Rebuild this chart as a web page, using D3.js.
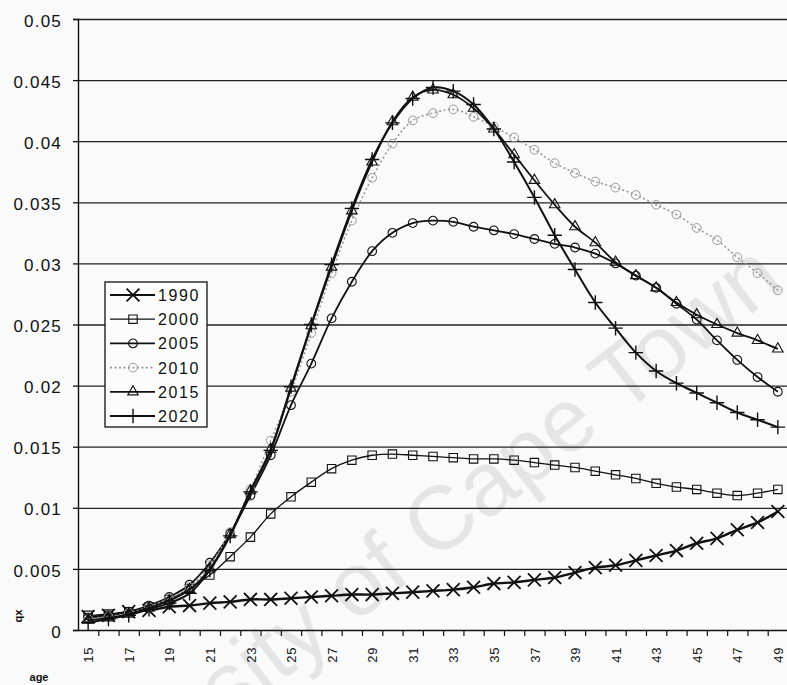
<!DOCTYPE html>
<html>
<head>
<meta charset="utf-8">
<script src="https://cdn.jsdelivr.net/npm/d3@7"></script>
<style>
	body { margin: 0; background: #fafafa; }
	svg { display: block; }
	text { font-family: "Liberation Sans", Arial, sans-serif; fill: #111; }
</style>
</head>
<body>
<div id="visual"></div>
<script>

// ages on the x axis
const ages = [15, 16, 17, 18, 19, 20, 21, 22, 23, 24, 25, 26, 27, 28, 29, 30, 31, 32,
	33, 34, 35, 36, 37, 38, 39, 40, 41, 42, 43, 44, 45, 46, 47, 48, 49];

const ageLabels = [15, 17, 19, 21, 23, 25, 27, 29, 31, 33, 35, 37, 39, 41, 43, 45, 47, 49];

const yTicks = [0, 0.005, 0.01, 0.015, 0.02, 0.025, 0.03, 0.035, 0.04, 0.045, 0.05];

// qx per age
const q1990 = [0.0011, 0.0012, 0.0015, 0.0016, 0.0019, 0.0020, 0.0022, 0.0023, 0.0025, 0.0025,
	0.0026, 0.0027, 0.0028, 0.0029, 0.0029, 0.0030, 0.0031, 0.0032, 0.0033, 0.0035,
	0.0038, 0.0039, 0.0041, 0.0043, 0.0047, 0.0051, 0.0053, 0.0057, 0.0061, 0.0065,
	0.0071, 0.0075, 0.0082, 0.0088, 0.0097];

const q2000 = [0.0012, 0.0013, 0.0015, 0.0019, 0.0025, 0.0034, 0.0045, 0.0060, 0.0076, 0.0095,
	0.0109, 0.0121, 0.0132, 0.0139, 0.0143, 0.0144, 0.0143, 0.0142, 0.0141, 0.0140,
	0.0140, 0.0139, 0.0137, 0.0135, 0.0133, 0.0130, 0.0127, 0.0124, 0.0120, 0.0117,
	0.0115, 0.0112, 0.0110, 0.0112, 0.0115];

const q2005 = [0.0010, 0.0012, 0.0015, 0.0020, 0.0027, 0.0037, 0.0055, 0.0079, 0.0110, 0.0143,
	0.0184, 0.0218, 0.0255, 0.0285, 0.0310, 0.0325, 0.0333, 0.0335, 0.0334, 0.0330,
	0.0327, 0.0324, 0.0320, 0.0316, 0.0313, 0.0308, 0.0300, 0.0290, 0.0280, 0.0267,
	0.0254, 0.0237, 0.0221, 0.0207, 0.0195];

const q2010 = [0.0009, 0.0011, 0.0014, 0.0019, 0.0026, 0.0035, 0.0053, 0.0080, 0.0115, 0.0155,
	0.0195, 0.0243, 0.0292, 0.0335, 0.0370, 0.0398, 0.0417, 0.0423, 0.0426, 0.0420,
	0.0412, 0.0403, 0.0393, 0.0382, 0.0374, 0.0367, 0.0362, 0.0356, 0.0348, 0.0340,
	0.0329, 0.0319, 0.0305, 0.0292, 0.0278];

const q2015 = [0.0008, 0.0010, 0.0013, 0.0018, 0.0024, 0.0033, 0.0050, 0.0078, 0.0114, 0.0148,
	0.0198, 0.0249, 0.0297, 0.0343, 0.0383, 0.0416, 0.0436, 0.0442, 0.0438, 0.0427,
	0.0410, 0.0389, 0.0368, 0.0348, 0.0330, 0.0317, 0.0301, 0.0290, 0.0280, 0.0268,
	0.0258, 0.0250, 0.0243, 0.0237, 0.0230];

const q2020 = [0.0006, 0.0009, 0.0012, 0.0017, 0.0022, 0.0030, 0.0049, 0.0077, 0.0113, 0.0147,
	0.0199, 0.0250, 0.0299, 0.0345, 0.0385, 0.0415, 0.0435, 0.0444, 0.0441, 0.0430,
	0.0410, 0.0383, 0.0354, 0.0323, 0.0295, 0.0268, 0.0247, 0.0227, 0.0212, 0.0202,
	0.0194, 0.0186, 0.0178, 0.0172, 0.0166];

// stroke-only symbols, with fallbacks for older d3 builds
const symTimes = d3.symbolTimes || { draw(c, s) { let r = Math.sqrt(s) * 0.6; c.moveTo(-r, -r); c.lineTo(r, r); c.moveTo(-r, r); c.lineTo(r, -r); } };
const symPlus = d3.symbolPlus || { draw(c, s) { let r = Math.sqrt(s) * 0.85; c.moveTo(-r, 0); c.lineTo(r, 0); c.moveTo(0, r); c.lineTo(0, -r); } };
const symSquare = d3.symbolSquare2 || d3.symbolSquare;
const symTriangle = d3.symbolTriangle2 || d3.symbolTriangle;

const series = [
	{ name: "1990", values: q1990, symbol: symTimes, size: 110, color: "#111", width: 2.4, mwidth: 1.8, dash: null },
	{ name: "2000", values: q2000, symbol: symSquare, size: 90, color: "#111", width: 1.3, mwidth: 1.1, dash: null },
	{ name: "2005", values: q2005, symbol: d3.symbolCircle, size: 60, color: "#111", width: 1.8, mwidth: 1.1, dash: null },
	{ name: "2010", values: q2010, symbol: d3.symbolCircle, size: 60, color: "#999", width: 1.6, mwidth: 1.0, dash: "2,2.5" },
	{ name: "2015", values: q2015, symbol: symTriangle, size: 80, color: "#111", width: 1.8, mwidth: 1.1, dash: null },
	{ name: "2020", values: q2020, symbol: symPlus, size: 70, color: "#111", width: 2.0, mwidth: 1.4, dash: null },
];

const width = 787, height = 685;
const plot = { left: 78, right: 788, top: 19, bottom: 630 };

const svg = d3.select("#visual")
	.append("svg")
	.attr("width", width)
	.attr("height", height);

// categories sit between tick marks, so use a linear scale with half-step edges
const x = d3.scaleLinear()
	.domain([ages[0] - 0.5, ages[ages.length - 1] + 0.5])
	.range([plot.left, plot.right]);

const y = d3.scaleLinear()
	.domain([0, 0.05])
	.range([plot.bottom, plot.top]);

// watermark
svg.append("text")
	.attr("transform", "translate(405,585) rotate(-38)")
	.attr("text-anchor", "middle")
	.style("font-size", "90px")
	.style("fill", "#000")
	.style("opacity", 0.08)
	.text("University of Cape Town");

// gridlines
svg.append("g")
	.attr("class", "grid")
	.attr("transform", `translate(${plot.left},0)`)
	.call(d3.axisLeft(y).tickValues(yTicks.slice(1)).tickSize(-(plot.right - plot.left)).tickFormat(""))
	.call(g => g.select(".domain").remove())
	.call(g => g.selectAll("line").attr("stroke", "#222").attr("stroke-width", 1.3));

// y axis
svg.append("g")
	.attr("class", "y axis")
	.attr("transform", `translate(${plot.left},0)`)
	.call(d3.axisLeft(y).tickValues(yTicks).tickSize(5).tickPadding(11).tickFormat(d => d === 0 ? "0" : d3.format(".3~f")(d)))
	.call(g => g.select(".domain").attr("stroke", "#111").attr("stroke-width", 1.4))
	.call(g => g.selectAll("line").attr("stroke", "#111").attr("stroke-width", 1.3))
	.call(g => g.selectAll("text").style("font-size", "17px").style("letter-spacing", "1.2px").attr("dy", "0.42em"));

// x axis with ticks between categories
svg.append("g")
	.attr("class", "x axis")
	.attr("transform", `translate(0,${plot.bottom})`)
	.call(d3.axisBottom(x).tickValues(ages.slice(1).map(a => a - 0.5)).tickSize(6).tickSizeOuter(0).tickFormat(""))
	.call(g => g.select(".domain").attr("stroke", "#111").attr("stroke-width", 1.6))
	.call(g => g.selectAll("line").attr("stroke", "#111").attr("stroke-width", 1.2));

svg.append("g")
	.attr("class", "x labels")
	.attr("transform", `translate(0,${plot.bottom})`)
	.call(d3.axisBottom(x).tickValues(ageLabels).tickSize(0).tickFormat(d => d))
	.call(g => g.select(".domain").remove())
	.call(g => g.selectAll("text")
		.attr("transform", "rotate(-90)")
		.attr("x", -17)
		.attr("y", 0)
		.attr("dy", "0.36em")
		.style("text-anchor", "end")
		.style("font-size", "13px")
		.style("letter-spacing", "0.6px"));

// axis titles
svg.append("text")
	.attr("transform", "translate(22,616) rotate(-90)")
	.attr("text-anchor", "middle")
	.style("font-size", "11px")
	.style("font-weight", "bold")
	.text("qx");

svg.append("text")
	.attr("x", 39)
	.attr("y", 681)
	.attr("text-anchor", "middle")
	.style("font-size", "11px")
	.style("font-weight", "bold")
	.text("age");

// series lines and markers
const line = d3.line()
	.x((d, i) => x(ages[i]))
	.y(d => y(d))
	.curve(d3.curveCatmullRom.alpha(0.5));

const lines = svg.append("g").attr("class", "series");

series.forEach(s => {
	let g = lines.append("g");

	g.append("path")
		.datum(s.values)
		.attr("fill", "none")
		.attr("stroke", s.color)
		.attr("stroke-width", s.width)
		.attr("stroke-dasharray", s.dash)
		.attr("d", line);

	g.selectAll("path.mark")
		.data(s.values)
		.join("path")
		.attr("class", "mark")
		.attr("transform", (d, i) => `translate(${x(ages[i])},${y(d)})`)
		.attr("d", d3.symbol(s.symbol, s.size))
		.attr("fill", "none")
		.attr("stroke", s.color)
		.attr("stroke-width", s.mwidth);
});

// legend
const legend = svg.append("g")
	.attr("class", "legend")
	.attr("transform", "translate(105,282)");

legend.append("rect")
	.attr("width", 102)
	.attr("height", 145)
	.attr("fill", "#fcfcfc")
	.attr("stroke", "#111")
	.attr("stroke-width", 1.3);

const rows = legend.selectAll("g.row")
	.data(series)
	.join("g")
	.attr("class", "row")
	.attr("transform", (d, i) => `translate(0,${13 + i * 24.2})`);

rows.append("line")
	.attr("x1", 5)
	.attr("x2", 50)
	.attr("stroke", d => d.color)
	.attr("stroke-width", d => Math.min(d.width, 1.8))
	.attr("stroke-dasharray", d => d.dash);

rows.append("path")
	.attr("transform", "translate(28,0)")
	.attr("d", d => d3.symbol(d.symbol, d.size)())
	.attr("fill", "none")
	.attr("stroke", d => d.color)
	.attr("stroke-width", d => d.mwidth);

rows.append("text")
	.attr("x", 53)
	.attr("dy", "0.38em")
	.style("font-size", "16px")
	.style("letter-spacing", "1.6px")
	.text(d => d.name);

</script>
</body>
</html>
